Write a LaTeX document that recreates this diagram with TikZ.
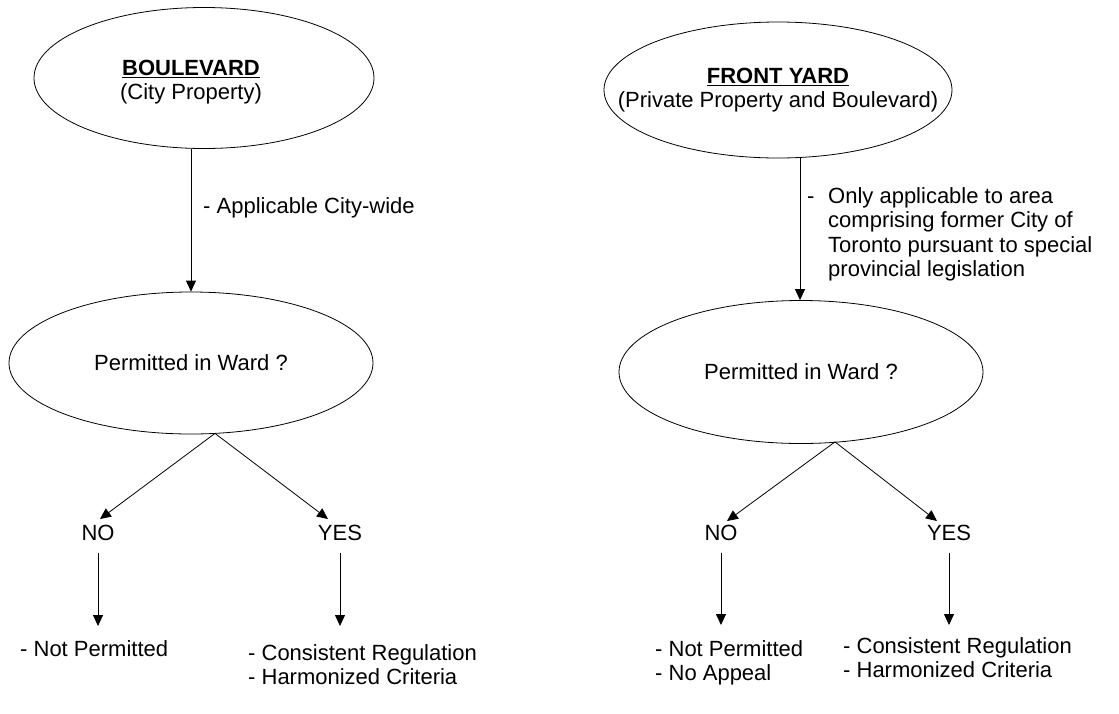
\documentclass[tikz,border=0pt]{standalone}
\usepackage{fontspec}
\setmainfont{Liberation Sans}
\usetikzlibrary{shapes.geometric,arrows.meta,calc}
\newcommand\myul[1]{\setbox0\hbox{#1}\rlap{\rule[-3pt]{\wd0}{1.6pt}}\box0}
\begin{document}
\begin{tikzpicture}[x=1pt,y=-1pt,
  every node/.style={font=\fontsize{22}{24.5}\selectfont, inner sep=0pt},
  oval/.style={draw, ellipse, line width=0.8pt, align=center, inner xsep=-60pt},
  arr/.style={draw, line width=0.8pt, -{Triangle[width=10pt,length=11pt]}},
  txt/.style={align=left, anchor=north west}]
\fill[white] (0,0) rectangle (1119,713);
\useasboundingbox (0,0) rectangle (1119,713);
% left column
\node[oval, minimum width=340pt, minimum height=141pt] (e1) at (204,78) {};
\node[align=center] (t1) at (191,82) {\myul{\textbf{BOULEVARD}}\\(City Property)};
\node[oval, minimum width=364pt, minimum height=142pt] (e2) at (191,363)
  {Permitted in Ward ?};
\coordinate (a1) at ($(e1.south)+(-13,0)$);
\draw[arr] (a1) -- (e2.north);
\node[anchor=north west] (l1) at (203,197) {- Applicable City-wide};
\node (no1) at (98,533) {NO};
\node (yes1) at (340,533) {YES};
\coordinate (p1) at ($(e2.south)+(24,-1)$);
\draw[arr] (p1) -- ($(no1.north)+(2,-6)$);
\draw[arr] (p1) -- ($(yes1.north)+(-12,-6)$);
\node[txt] (nb1) at (20,640) {- Not Permitted};
\node[txt] (yb1) at (248,644) {- Consistent Regulation\\- Harmonized Criteria};
\draw[arr] ($(no1.south)+(0,12)$) -- ($(no1.south |- nb1.north)+(0,-14)$);
\draw[arr] ($(yes1.south)+(0,12)$) -- ($(yes1.south |- yb1.north)+(0,-18)$);
% right column
\node[oval, minimum width=348pt, minimum height=136pt] (e3) at (778,90)
  {\myul{\textbf{FRONT YARD}}\\(Private Property and Boulevard)};
\node[oval, minimum width=364pt, minimum height=143pt] (e4) at (801,372)
  {Permitted in Ward ?};
\coordinate (a2) at ($(e3.south)+(22,0)$);
\draw[arr] (a2) -- (a2 |- e4.north);
\node[txt] (l2) at (807,187) {\makebox[21pt][l]{-}Only applicable to area\\
  \hspace*{21pt}comprising former City of\\
  \hspace*{21pt}Toronto pursuant to special\\
  \hspace*{21pt}provincial legislation};
\node (no2) at (721,533) {NO};
\node (yes2) at (949,533) {YES};
\coordinate (p2) at ($(e4.south)+(34,-2)$);
\draw[arr] (p2) -- ($(no2.north)+(6,-4)$);
\draw[arr] (p2) -- ($(yes2.north)+(-12,-4)$);
\node[txt] (nb2) at (655,640) {- Not Permitted\\- No Appeal};
\node[txt] (yb2) at (843,637) {- Consistent Regulation\\- Harmonized Criteria};
\draw[arr] ($(no2.south)+(0,12)$) -- ($(no2.south |- nb2.north)+(0,-15)$);
\draw[arr] ($(yes2.south)+(0,12)$) -- ($(yes2.south |- yb2.north)+(0,-12)$);
\end{tikzpicture}
\end{document}
